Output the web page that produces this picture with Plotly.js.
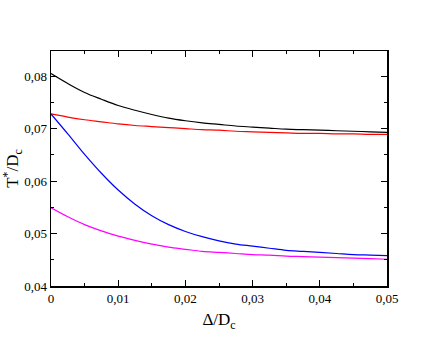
<!DOCTYPE html>
<html>
<head>
<meta charset="utf-8">
<script src="https://cdn.plot.ly/plotly-3.0.1.min.js"></script>
<style>
html,body{margin:0;padding:0;background:#fff;}
#chart{width:436px;height:337px;}
</style>
</head>
<body>
<div id="chart"></div>
<script>
const xVals = [0, 0.0025, 0.005, 0.0075, 0.01, 0.0125, 0.015, 0.0175, 0.02, 0.0225, 0.025, 0.0275, 0.03, 0.0325, 0.035, 0.0375, 0.04, 0.0425, 0.045, 0.0475, 0.05];
const blackVals = [0.0805, 0.0786, 0.0769, 0.0756, 0.0744, 0.0735, 0.0727, 0.0720, 0.0715, 0.0711, 0.0708, 0.0705, 0.0703, 0.0701, 0.0699, 0.0698, 0.0697, 0.0696, 0.0695, 0.0694, 0.0693];
const redVals = [0.0728, 0.0722, 0.0717, 0.0713, 0.0709, 0.0706, 0.0704, 0.0702, 0.0700, 0.0698, 0.0697, 0.0695, 0.0694, 0.0693, 0.0692, 0.0691, 0.0691, 0.0690, 0.0690, 0.0689, 0.0689];
const blueVals = [0.0728, 0.0690, 0.0651, 0.0615, 0.0583, 0.0556, 0.0534, 0.0517, 0.0504, 0.0494, 0.0486, 0.0480, 0.0476, 0.0472, 0.0468, 0.0466, 0.0464, 0.0462, 0.0460, 0.0459, 0.0458];
const magentaVals = [0.0549, 0.0532, 0.0517, 0.0505, 0.0495, 0.0487, 0.0480, 0.0474, 0.0470, 0.0466, 0.0464, 0.0462, 0.0460, 0.0459, 0.0457, 0.0456, 0.0455, 0.0454, 0.0453, 0.0452, 0.0451];
const xTickVals = [0, 0.01, 0.02, 0.03, 0.04, 0.05];
const xTickText = ["0", "0,01", "0,02", "0,03", "0,04", "0,05"];
const yTickVals = [0.04, 0.05, 0.06, 0.07, 0.08];
const yTickText = ["0,04", "0,05", "0,06", "0,07", "0,08"];

const mk = (y, c) => ({x: xVals, y: y, type: 'scatter', mode: 'lines', line: {color: c, width: 1.2, shape: 'spline', smoothing: 1}, hoverinfo: 'skip'});
const data = [mk(blackVals, '#000000'), mk(redVals, '#ff0000'), mk(blueVals, '#0000ff'), mk(magentaVals, '#ff00ff')];

const FAM = 'Liberation Serif';
const layout = {
  width: 436, height: 337,
  margin: {l: 50.5, r: 49, t: 51, b: 50.7, pad: 0},
  paper_bgcolor: '#fff', plot_bgcolor: '#fff',
  showlegend: false,
  font: {family: FAM, color: '#000', size: 13},
  xaxis: {
    range: [0, 0.05], tickvals: xTickVals, ticktext: xTickText,
    ticks: 'inside', ticklen: 6, tickwidth: 1, tickcolor: '#000',
    showline: true, linecolor: '#000', linewidth: 1.5, mirror: 'allticks',
    showgrid: false, zeroline: false,
    minor: {tickvals: [0.005, 0.015, 0.025, 0.035, 0.045], ticks: 'inside', ticklen: 3, tickcolor: '#000', showgrid: false},
    tickfont: {family: FAM, size: 13, color: '#000'},
    title: {text: 'Δ/D<sub>c</sub>', font: {family: FAM, size: 17, color: '#000'}, standoff: 8}
  },
  yaxis: {
    range: [0.04, 0.0848], tickvals: yTickVals, ticktext: yTickText,
    ticks: 'inside', ticklen: 6, tickwidth: 1, tickcolor: '#000',
    showline: true, linecolor: '#000', linewidth: 1.5, mirror: 'allticks',
    showgrid: false, zeroline: false,
    minor: {tickvals: [0.045, 0.055, 0.065, 0.075], ticks: 'inside', ticklen: 3, tickcolor: '#000', showgrid: false},
    tickfont: {family: FAM, size: 13, color: '#000'},
    title: {text: 'T<sup>*</sup>/D<sub>c</sub>', font: {family: FAM, size: 17, color: '#000'}, standoff: 6}
  }
};
Plotly.newPlot('chart', data, layout, {displayModeBar: false, staticPlot: true});
</script>
</body>
</html>
